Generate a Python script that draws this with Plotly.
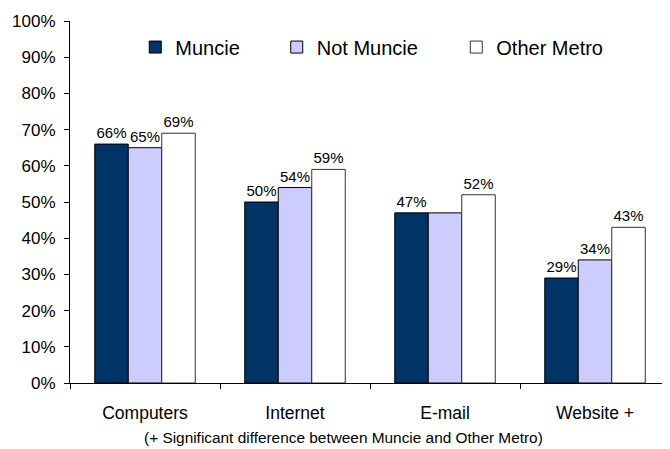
import plotly.graph_objects as go

categories = ["Computers", "Internet", "E-mail", "Website +"]
muncie = [0.66, 0.50, 0.47, 0.29]
not_muncie = [0.65, 0.54, 0.47, 0.34]
other_metro = [0.69, 0.59, 0.52, 0.43]

muncie_labels = ["66%", "50%", "47%", "29%"]
not_muncie_labels = ["65%", "54%", "", "34%"]
other_metro_labels = ["69%", "59%", "52%", "43%"]

y_ticks = [i / 10 for i in range(11)]
y_tick_text = [f"{i * 10}%" for i in range(11)]

footnote = "(+ Significant difference between Muncie and Other Metro)"

FONT = "Liberation Sans, Arial, sans-serif"

fig = go.Figure()
fig.add_trace(go.Bar(
    x=categories, y=muncie, name="Muncie", text=muncie_labels,
    textposition="outside", cliponaxis=False,
    marker=dict(color="#003366", line=dict(color="#000000", width=1)),
    legend="legend", showlegend=True,
))
fig.add_trace(go.Bar(
    x=categories, y=not_muncie, name="Not Muncie", text=not_muncie_labels,
    textposition="outside", cliponaxis=False,
    marker=dict(color="#CCCCFF", line=dict(color="#000000", width=1)),
    legend="legend2", showlegend=True,
))
fig.add_trace(go.Bar(
    x=categories, y=other_metro, name="Other Metro", text=other_metro_labels,
    textposition="outside", cliponaxis=False,
    marker=dict(color="#FFFFFF", line=dict(color="#333333", width=1)),
    legend="legend3", showlegend=True,
))

fig.update_traces(textfont=dict(size=15, color="#000000", family=FONT))

legend_common = dict(
    orientation="h", yanchor="middle", xanchor="left", y=0.928,
    font=dict(size=20, color="#000000", family=FONT),
    bgcolor="rgba(0,0,0,0)", borderwidth=0,
)

# page body has an 8px default margin, so the figure is 8px smaller
W, H = 662, 441
ML, MR, MT, MB = 62, 0, 13, 66
plot_w = W - ML - MR
plot_h = H - MT - MB

fig.update_layout(
    width=W, height=H,
    margin=dict(l=ML, r=MR, t=MT, b=MB),
    paper_bgcolor="#FFFFFF", plot_bgcolor="#FFFFFF",
    showlegend=True,
    barmode="group", bargap=0.33, bargroupgap=0,
    font=dict(family=FONT, color="#000000"),
    legend=dict(x=0.1088, **legend_common),
    legend2=dict(x=0.3446, **legend_common),
    legend3=dict(x=0.6438, **legend_common),
    xaxis=dict(
        showline=True, linecolor="#000000", linewidth=1,
        ticks="outside", tickson="boundaries", ticklen=5, tickcolor="#000000",
        tickfont=dict(size=17.5, family=FONT, color="#000000"),
        ticklabelstandoff=14,
        showgrid=False,
    ),
    yaxis=dict(
        range=[0, 1], tickvals=y_ticks, ticktext=y_tick_text,
        showline=True, linecolor="#000000", linewidth=1,
        ticks="outside", ticklen=5, tickcolor="#000000",
        tickfont=dict(size=17, family=FONT, color="#000000"),
        ticklabelstandoff=5,
        showgrid=False, zeroline=False,
    ),
    annotations=[dict(
        text=footnote, xref="paper", yref="paper",
        x=(335.5 - ML) / plot_w, y=(375 - 429.7) / plot_h,
        xanchor="center", yanchor="middle",
        showarrow=False, font=dict(size=15.4, family=FONT, color="#000000"),
    )],
)

fig.write_html("out.html")
